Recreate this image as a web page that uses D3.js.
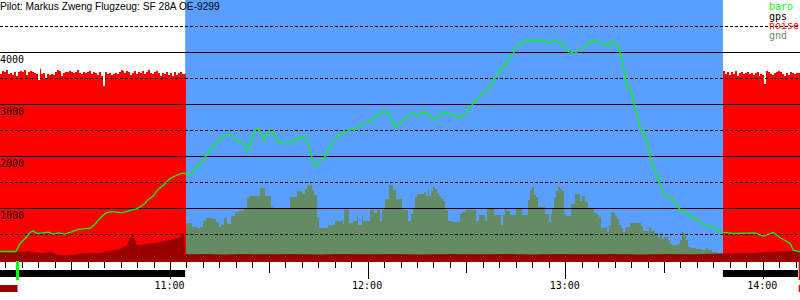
<!DOCTYPE html>
<html>
<head>
<meta charset="utf-8">
<script src="https://cdn.jsdelivr.net/npm/d3@7"></script>
<style>
  html, body { margin: 0; padding: 0; background: #fff; }
  svg { display: block; }
  .mono { font-family: "DejaVu Sans Mono", monospace; font-size: 10px; }
</style>
</head>
<body>
<svg id="chart" width="800" height="300"></svg>
<script>
// times are minutes after 10:00, heights in m
var title = "Pilot: Markus Zweng Flugzeug: SF 28A OE-9299";

var baroMin = [8.4, 13.2, 14.5, 16.0, 17.5, 18.5, 19.5, 21.5, 23.0, 24.6,
  26.1, 28.1, 30.1, 32.2, 34.7, 35.7, 37.2, 38.7, 40.6, 41.8,
  43.3, 45.3, 47.3, 48.9, 49.9, 50.9, 52.4, 53.4, 54.9, 56.4,
  58.0, 59.5, 60.5, 62.0, 63.5, 64.6, 65.6, 66.3, 67.1, 68.1,
  69.1, 70.3, 71.6, 73.2, 74.7, 76.2, 77.7, 79.2, 80.7, 82.1,
  83.5, 84.8, 86.1, 87.1, 88.5, 89.9, 91.4, 92.4, 93.9, 96.4,
  98.0, 100.0, 101.5, 102.5, 103.5, 104.5, 106.1, 107.1, 108.6, 110.4,
  112.1, 114.1, 116.7, 119.7, 122.3, 124.3, 125.6, 126.8, 128.3, 129.8,
  131.4, 133.4, 135.4, 137.1, 138.4, 140.2, 141.5, 143.0, 144.5, 146.5,
  147.8, 149.6, 151.1, 152.9, 155.0, 157.0, 158.7, 160.2, 162.2, 163.2,
  164.2, 165.8, 167.8, 169.8, 170.8, 172.1, 173.9, 175.4, 176.6, 177.9,
  179.2, 180.5, 182.7, 184.5, 186.0, 187.5, 189.6, 191.6, 193.1, 194.4,
  195.6, 196.6, 197.5, 198.2, 198.9, 200.0, 200.7, 201.7, 202.9, 203.9,
  204.8, 205.8, 206.8, 207.8, 208.8, 209.8, 210.8, 212.3, 213.6, 214.9,
  216.7, 217.9, 219.4, 220.9, 221.9, 225.0, 227.0, 228.2, 231.0, 237.6,
  240.2, 243.2, 245.2, 248.3, 249.3, 251.3];
var baroAlt = [167, 167, 321, 417, 533, 563, 513, 525, 538, 500,
  525, 500, 544, 590, 610, 610, 692, 802, 910, 929,
  929, 910, 942, 975, 987, 1025, 1090, 1167, 1231, 1360,
  1442, 1538, 1590, 1629, 1667, 1667, 1615, 1629, 1731, 1783,
  1827, 1956, 2063, 2192, 2294, 2385, 2423, 2371, 2275, 2244,
  2083, 2308, 2519, 2519, 2308, 2467, 2467, 2308, 2244, 2231,
  2321, 2371, 2340, 2148, 1860, 1808, 1937, 1987, 2212, 2340,
  2437, 2487, 2544, 2640, 2744, 2852, 2852, 2769, 2563, 2629,
  2725, 2821, 2788, 2852, 2821, 2692, 2744, 2852, 2821, 2788,
  2725, 2821, 2936, 3077, 3206, 3302, 3494, 3640, 3783, 3910,
  3975, 4135, 4217, 4231, 4186, 4231, 4217, 4154, 4231, 4198,
  4167, 4025, 3975, 4025, 4102, 4198, 4198, 4179, 4115, 4217,
  4167, 4006, 3783, 3525, 3333, 3302, 3044, 2821, 2500, 2467,
  2308, 1987, 1808, 1635, 1475, 1283, 1217, 1187, 1090, 962,
  929, 833, 802, 750, 673, 640, 544, 533, 513, 525,
  462, 533, 437, 321, 192, 160];

var gndMin = [64.6, 65.2, 66.6, 68.2, 69.1, 70.0, 70.9, 72.8, 74.0, 74.9,
  75.5, 76.4, 77.3, 78.5, 79.7, 81.0, 82.5, 83.4, 84.0, 87.3,
  88.8, 90.7, 91.3, 96.4, 98.6, 100.1, 101.0, 101.6, 102.2, 103.1,
  103.7, 104.6, 105.2, 108.0, 110.1, 112.5, 112.8, 114.4, 115.6, 116.8,
  117.1, 118.3, 118.6, 120.7, 121.9, 122.9, 123.8, 124.4, 125.3, 126.5,
  127.7, 128.6, 130.4, 132.3, 133.2, 133.8, 134.4, 135.0, 137.1, 137.7,
  138.3, 138.6, 139.3, 139.9, 140.5, 141.1, 141.7, 142.3, 142.9, 143.5,
  144.4, 145.6, 148.1, 148.7, 149.6, 152.9, 153.8, 155.7, 156.3, 158.4,
  160.5, 161.1, 161.7, 162.3, 163.2, 165.1, 166.9, 168.7, 169.3, 169.9,
  170.5, 171.1, 171.7, 173.9, 175.1, 175.7, 176.0, 176.6, 177.2, 177.8,
  178.4, 179.0, 179.6, 179.9, 180.6, 181.8, 183.0, 184.5, 185.1, 186.0,
  186.9, 188.8, 189.7, 190.3, 190.9, 192.1, 192.7, 193.3, 193.9, 194.5,
  195.1, 195.7, 196.3, 196.9, 197.6, 198.2, 198.8, 199.7, 203.0, 203.6,
  205.5, 206.1, 207.3, 208.2, 208.8, 209.4, 210.0, 211.2, 211.8, 212.4,
  214.3, 214.9, 215.5, 216.1, 216.7, 217.3, 217.9, 219.7, 221.5, 222.8,
  223.4, 224.6, 226.1, 227.9];
var gndAlt = [673, 712, 635, 610, 635, 750, 808, 788, 731, 635,
  673, 808, 692, 846, 923, 942, 1000, 1192, 1231, 1385,
  1231, 1019, 1000, 1212, 1327, 1269, 1365, 1423, 1442, 1346,
  1250, 827, 615, 673, 750, 692, 962, 712, 750, 865,
  673, 865, 750, 962, 904, 962, 750, 962, 1173, 1442,
  1346, 1173, 962, 750, 885, 1000, 1212, 1269, 1308, 1231,
  1365, 1231, 1327, 1404, 1365, 1288, 1231, 1173, 1135, 962,
  750, 731, 885, 923, 962, 750, 865, 750, 981, 865,
  673, 865, 981, 942, 865, 981, 865, 1154, 1346, 1404,
  1250, 1212, 1019, 885, 731, 885, 981, 1212, 1327, 1404,
  1365, 1327, 923, 865, 846, 1077, 1269, 1135, 1231, 1115,
  1000, 904, 865, 827, 615, 635, 538, 673, 923, 904,
  846, 788, 673, 615, 538, 615, 635, 712, 654, 558,
  635, 558, 519, 442, 519, 404, 442, 385, 308, 288,
  308, 385, 538, 481, 385, 250, 231, 212, 192, 231,
  192, 154, 135, 135];

// dark red band at the bottom
var lowMin = [8.4, 16.5, 18.5, 21.5, 23.6, 25.6, 28.6, 30.6, 32.7, 38.7,
  40.8, 44.3, 46.9, 47.9, 48.6, 49.4, 50.0, 52.9, 56.0, 60.5,
  62.0, 63.5, 64.3, 64.6, 70, 76, 83, 90, 97, 105,
  112, 120, 128, 136, 145, 153, 162, 170, 178, 186,
  195, 203, 211, 219, 227.9, 237.0, 241.3, 251.3];
var lowAlt = [167, 167, 154, 140, 160, 115, 90, 102, 129, 140,
  167, 206, 288, 417, 513, 385, 288, 308, 333, 398,
  417, 462, 544, 115, 120, 110, 118, 112, 120, 110,
  118, 112, 120, 110, 118, 112, 120, 110, 118, 112,
  120, 110, 118, 115, 129, 140, 160, 179];

// engine noise, one sample every 0.6 min
var noiseStep = 0.6;
var noiseLeftStart = 8.38, noiseLeftEnd = 64.9;
var noiseLeft = [3577, 3635, 3615, 3654, 3577, 3596, 3558, 3615, 3538, 3615,
  3635, 3615, 3654, 3558, 3615, 3635, 3615, 3596, 3577, 3462,
  3673, 3577, 3596, 3500, 3577, 3558, 3577, 3558, 3615, 3654,
  3635, 3538, 3596, 3615, 3615, 3635, 3615, 3596, 3615, 3654,
  3596, 3577, 3615, 3596, 3615, 3635, 3577, 3615, 3596, 3558,
  3615, 3538, 3346, 3615, 3577, 3596, 3558, 3577, 3596, 3577,
  3615, 3654, 3635, 3596, 3635, 3615, 3558, 3596, 3635, 3577,
  3615, 3596, 3635, 3577, 3615, 3654, 3596, 3577, 3615, 3635,
  3596, 3538, 3596, 3577, 3615, 3558, 3596, 3538, 3615, 3558,
  3596, 3615, 3577];
var noiseRightStart = 227.9, noiseRightEnd = 251.3;
var noiseRight = [3635, 3577, 3615, 3558, 3615, 3577, 3635, 3538, 3596, 3615,
  3577, 3596, 3615, 3577, 3596, 3558, 3596, 3615, 3538, 3577,
  3558, 3385, 3635, 3615, 3577, 3558, 3596, 3615, 3635, 3615,
  3577, 3538, 3596, 3558, 3615, 3596, 3577, 3596];

var engineOff = [64.6, 227.9];
var engineRuns = [[8.38, 64.6], [227.9, 250.7]];
var takeoff = 13.7, landing = 250.9;
var viewStart = 8.38, viewEnd = 251.3;

var gridMajor = [1000, 2000, 3000, 4000];
var gridMinor = [500, 1500, 2500, 3500, 4500];
var legendNames = ["baro", "gps", "noise", "gnd"];
var legendColors = ["#00ff00", "#000000", "#ff0000", "#648c64"];

var t0 = new Date(2000, 0, 1, 10, 0, 0);
function at(m) { return new Date(t0.getTime() + m * 60000); }

var width = 800;
var xScale = d3.scaleTime().domain([at(viewStart), at(viewEnd)]).range([0, width]);
var yScale = d3.scaleLinear().domain([-35, 5000]).range([262, 0]);
var base = yScale(-35);

var svg = d3.select("#chart");

// gliding part (engine off)
svg.append("rect")
  .attr("x", xScale(at(engineOff[0])))
  .attr("y", 0)
  .attr("width", xScale(at(engineOff[1])) - xScale(at(engineOff[0])))
  .attr("height", base)
  .attr("fill", "#5a9fff");

var stepArea = d3.area()
  .curve(d3.curveStepAfter)
  .x(function(d) { return xScale(at(d[0])); })
  .y0(base)
  .y1(function(d) { return yScale(d[1]); });

var gnd = d3.zip(gndMin, gndAlt);
svg.append("path").datum(gnd)
  .attr("d", stepArea)
  .attr("fill", "#648c64")
  .attr("shape-rendering", "crispEdges");

function noiseSeries(vals, start, end) {
  var pts = vals.map(function(v, i) { return [start + i * noiseStep, v]; });
  pts.push([end, vals[vals.length - 1]]);
  return pts;
}

[noiseSeries(noiseLeft, noiseLeftStart, noiseLeftEnd),
 noiseSeries(noiseRight, noiseRightStart, noiseRightEnd)].forEach(function(s) {
  svg.append("path").datum(s)
    .attr("d", stepArea)
    .attr("fill", "#ff0000")
    .attr("shape-rendering", "crispEdges");
});

var lowArea = d3.area()
  .x(function(d) { return xScale(at(d[0])); })
  .y0(base)
  .y1(function(d) { return yScale(d[1]); });
svg.append("path").datum(d3.zip(lowMin, lowAlt))
  .attr("d", lowArea)
  .attr("fill", "#990000");

// grid
svg.append("g").selectAll("line").data(gridMajor).join("line")
  .attr("x1", 0).attr("x2", width)
  .attr("y1", function(d) { return Math.round(yScale(d)) + 0.5; })
  .attr("y2", function(d) { return Math.round(yScale(d)) + 0.5; })
  .attr("stroke", "#000");
svg.append("g").selectAll("line").data(gridMinor).join("line")
  .attr("x1", 0).attr("x2", width)
  .attr("y1", function(d) { return Math.round(yScale(d)) + 0.5; })
  .attr("y2", function(d) { return Math.round(yScale(d)) + 0.5; })
  .attr("stroke", "#000")
  .attr("stroke-dasharray", "3,2");

svg.append("g").selectAll("text").data(gridMajor).join("text")
  .attr("class", "mono")
  .attr("x", 0)
  .attr("y", function(d) { return Math.round(yScale(d)) + 11; })
  .attr("fill", "#000")
  .text(function(d) { return d; });

// baro trace
var line = d3.line()
  .x(function(d) { return xScale(at(d[0])); })
  .y(function(d) { return yScale(d[1]); });
svg.append("path").datum(d3.zip(baroMin, baroAlt))
  .attr("d", line)
  .attr("fill", "none")
  .attr("stroke", "#00ff00")
  .attr("stroke-width", 1.3);

// time axis: 5 min, 30 min, hours
var axisG = svg.append("g").attr("transform", "translate(0," + base + ")");
var minorAxis = d3.axisBottom(xScale).ticks(d3.timeMinute.every(5)).tickSize(6).tickFormat("");
var halfAxis = d3.axisBottom(xScale).ticks(d3.timeMinute.every(30)).tickSize(11).tickFormat("");
var hourAxis = d3.axisBottom(xScale).ticks(d3.timeHour.every(1)).tickSize(17).tickPadding(3)
  .tickFormat(d3.timeFormat("%H:%M"));
[minorAxis, halfAxis, hourAxis].forEach(function(a) {
  var g = axisG.append("g").call(a);
  g.select(".domain").remove();
  g.selectAll("line").attr("stroke", "#000").attr("shape-rendering", "crispEdges");
  g.selectAll("text").attr("class", "mono").attr("font-size", null).attr("font-family", null)
    .attr("dx", -1).attr("fill", "#000");
});
axisG.selectAll("g").attr("font-size", null).attr("font-family", null);

// engine running bars
svg.append("g").selectAll("rect").data(engineRuns).join("rect")
  .attr("x", function(d) { return xScale(at(d[0])); })
  .attr("width", function(d) { return xScale(at(d[1])) - xScale(at(d[0])); })
  .attr("y", 270).attr("height", 7)
  .attr("fill", "#000");

// takeoff / landing
svg.append("rect")
  .attr("x", xScale(at(takeoff)) - 1.5).attr("width", 3)
  .attr("y", base - 1).attr("height", 19)
  .attr("fill", "#00ff00");
svg.append("rect")
  .attr("x", 0).attr("width", xScale(at(takeoff)))
  .attr("y", 285).attr("height", 7)
  .attr("fill", "#990000");
svg.append("rect")
  .attr("x", xScale(at(landing))).attr("width", width - xScale(at(landing)))
  .attr("y", base).attr("height", 18)
  .attr("fill", "#ff0000");
svg.append("rect")
  .attr("x", xScale(at(landing))).attr("width", width - xScale(at(landing)))
  .attr("y", 285).attr("height", 7)
  .attr("fill", "#ff0000");

// title and legend
svg.append("text")
  .attr("x", 0).attr("y", 9.5)
  .attr("font-family", "'Liberation Sans', Arial, sans-serif")
  .attr("font-size", "10.2px")
  .attr("fill", "#000")
  .text(title);

svg.append("g").selectAll("text").data(legendNames).join("text")
  .attr("class", "mono")
  .attr("x", 769)
  .attr("y", function(d, i) { return 10 + i * 9.5; })
  .attr("fill", function(d, i) { return legendColors[i]; })
  .text(function(d) { return d; });
</script>
</body>
</html>
